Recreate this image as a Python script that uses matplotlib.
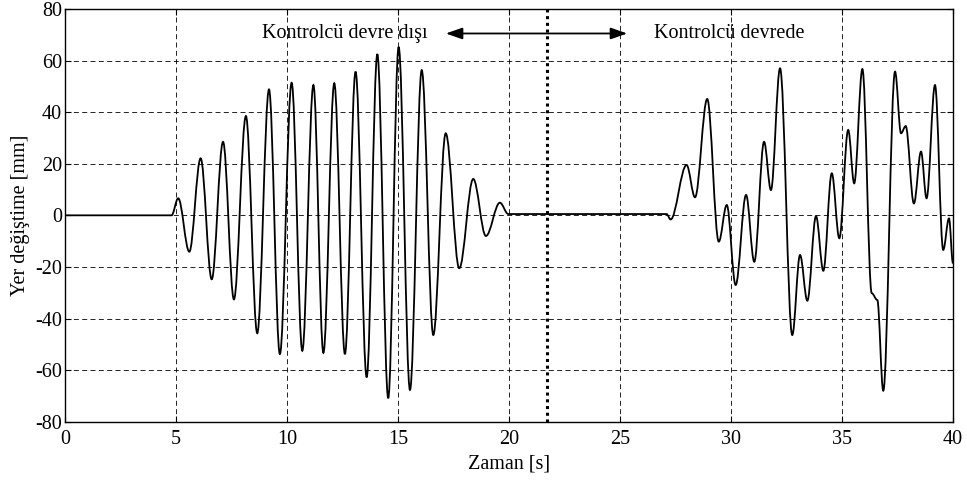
import matplotlib
matplotlib.use("Agg")
import matplotlib.pyplot as plt
from matplotlib.path import Path
from matplotlib.patches import PathPatch, FancyArrowPatch

# Extrema / key points of the displacement signal
time_s = [0, 4.8, 5.1, 5.6, 6.11, 6.61, 7.12, 7.61, 8.15, 8.66, 9.19, 9.68, 10.21, 10.69,
          11.19, 11.64, 12.13, 12.61, 13.09, 13.59, 14.07, 14.56, 15.03, 15.54, 16.07,
          16.59, 17.15, 17.76, 18.39, 18.96, 19.59, 19.97, 27.1, 27.28, 28.0, 28.38,
          28.93, 29.45, 29.81, 30.21, 30.68, 31.05, 31.49, 31.8, 32.21, 32.76, 33.11,
          33.44, 33.83, 34.16, 34.54, 34.88, 35.28, 35.55, 35.92, 36.34, 36.59, 36.86,
          37.39, 37.66, 37.87, 38.24, 38.56, 38.81, 39.19, 39.56, 39.82, 40.0]
disp_mm = [0, 0, 6.6, -14.1, 22.1, -24.8, 28.5, -32.6, 38.5, -45.7, 48.8, -53.8, 51.4, -52.5,
           50.5, -53.3, 51.2, -53.8, 55.7, -62.8, 62.5, -70.9, 65.3, -67.7, 56.3,
           -46.4, 31.8, -20.5, 14.1, -8.0, 4.9, 0.5, 0.5, -1.6, 19.5, 7.0,
           45.1, -10.2, 4.0, -27.0, 7.9, -18.0, 28.5, 9.8, 57.0, -46.4, -15.4,
           -33.1, -0.3, -21.5, 16.3, -8.9, 33.1, 12.4, 56.7, -30.2, -32.8, -68.0,
           55.7, 31.8, 34.6, 4.6, 24.7, 6.6, 50.5, -13.4, -1.2, -18.6]

switch_time = 21.73
x_ticks = [0, 5, 10, 15, 20, 25, 30, 35, 40]
y_ticks = [-80, -60, -40, -20, 0, 20, 40, 60, 80]
label_off = "Kontrolcü devre dışı"
label_on = "Kontrolcü devrede"
arrow_span = [17.03, 25.45]
arrow_y = 70.5

plt.rcParams['font.family'] = ['Liberation Serif', 'DejaVu Serif']
plt.rcParams['axes.unicode_minus'] = False

fig = plt.figure(figsize=(9.67, 4.8), dpi=100)
ax = fig.add_axes([0.0672, 0.1215, 0.9183, 0.8598])

# smooth curve through extrema using cubic Bezier segments (horizontal tangents)
k = 0.36
verts = [(time_s[0], disp_mm[0])]
codes = [Path.MOVETO]
for i in range(1, len(time_s)):
    t0, y0 = time_s[i - 1], disp_mm[i - 1]
    t1, y1 = time_s[i], disp_mm[i]
    dt = t1 - t0
    verts += [(t0 + k * dt, y0), (t1 - k * dt, y1), (t1, y1)]
    codes += [Path.CURVE4] * 3
ax.add_patch(PathPatch(Path(verts, codes), fill=False, edgecolor='black', lw=1.3,
                       transform=ax.transData, zorder=3))

ax.axvline(switch_time, color='black', lw=2.2, ls=(0, (1, 1.2)), zorder=4)

ax.set_xlim(0, 40)
ax.set_ylim(-80, 80)
ax.set_xticks(x_ticks)
ax.set_yticks(y_ticks)
ax.grid(True, color='black', lw=0.6, ls=(0, (6, 4)))
ax.tick_params(direction='in', top=True, right=True, labelsize=14.5, length=4)
ax.tick_params(axis='x', pad=6)
ax.tick_params(axis='y', pad=2)
for s in ax.spines.values():
    s.set_linewidth(1.0)

ax.set_xlabel("Zaman [s]", fontsize=14.5, labelpad=4)
ax.set_ylabel("Yer değiştime [mm]", fontsize=14.5, labelpad=4)

ax.text(12.6, arrow_y, label_off, fontsize=14.5, ha='center', va='center', zorder=5)
ax.text(29.9, arrow_y, label_on, fontsize=14.5, ha='center', va='center', zorder=5)
ax.add_patch(FancyArrowPatch((arrow_span[0], arrow_y), (arrow_span[1], arrow_y),
                             arrowstyle='<|-|>,head_length=1.0,head_width=0.35',
                             color='black', lw=1.3, mutation_scale=10, zorder=5))

fig.savefig("out.png", dpi=100)
